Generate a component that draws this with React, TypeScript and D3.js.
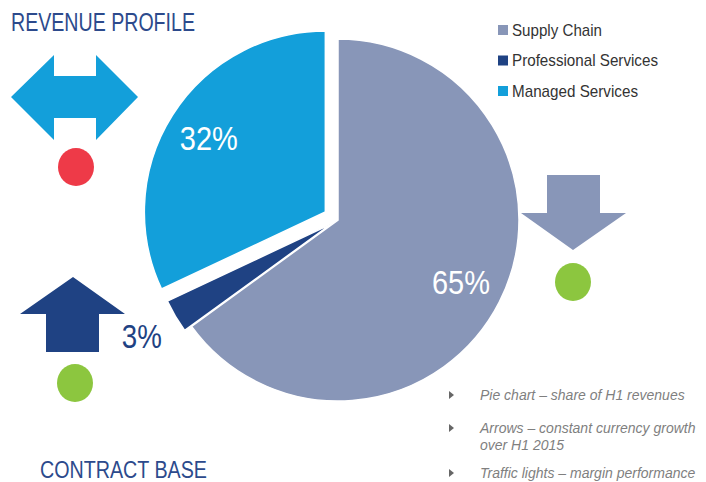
import { useEffect, useRef } from 'react';
import * as d3 from 'd3';

// revenue share by segment, H1
const segments = ['Supply Chain', 'Professional Services', 'Managed Services'];
const shares = [65, 3, 32];
const segmentColors = ['#8896b8', '#1f4283', '#139fda'];
const explode = [0, 8, 15];
const legendWidths = [90, 146, 126];

const notes = [
  ['Pie chart – share of H1 revenues'],
  ['Arrows – constant currency growth', 'over H1 2015'],
  ['Traffic lights – margin performance'],
];

const NARROW = '"Liberation Sans Narrow", "Arial Narrow", "Liberation Sans", sans-serif';

function App() {
  const ref = useRef<SVGSVGElement>(null);

  useEffect(() => {
    const svg = d3.select(ref.current);
    svg.selectAll('*').remove();

    const cx = 338, cy = 220, radius = 181;

    const pie = d3.pie<number>().sort(null).value((d) => d);
    const arcs = pie(shares);
    const arc = d3.arc<d3.PieArcDatum<number>>().innerRadius(0).outerRadius(radius);

    const dir = (d: d3.PieArcDatum<number>) => {
      const a = (d.startAngle + d.endAngle) / 2;
      return [Math.sin(a), -Math.cos(a)];
    };

    const chart = svg.append('g').attr('transform', `translate(${cx},${cy})`);

    const slice = chart.selectAll('g.slice').data(arcs).join('g')
      .attr('class', 'slice')
      .attr('transform', (d, i) => {
        const [dx, dy] = dir(d);
        return `translate(${dx * explode[i]},${dy * explode[i]})`;
      });

    slice.append('path')
      .attr('d', arc)
      .attr('fill', (d, i) => segmentColors[i])
      .attr('stroke', 'white')
      .attr('stroke-width', 1.5);

    // labels: inside for big slices, outside for the small one
    const labelR = [138, 220, 138];
    slice.append('text')
      .attr('x', (d, i) => dir(d)[0] * labelR[i])
      .attr('y', (d, i) => dir(d)[1] * labelR[i])
      .attr('text-anchor', 'middle')
      .attr('dominant-baseline', 'central')
      .attr('fill', (d, i) => (i === 1 ? '#1f4283' : 'white'))
      .style('font-family', NARROW)
      .style('font-size', '33px')
      .attr('textLength', (d) => (String(d.data).length === 1 ? 40 : 58))
      .attr('lengthAdjust', 'spacingAndGlyphs')
      .text((d) => d.data + '%');

    // legend
    const legend = svg.append('g').attr('transform', 'translate(498,30)');
    const row = legend.selectAll('g').data(segments).join('g')
      .attr('transform', (d, i) => `translate(0,${i * 30.5})`);
    row.append('rect')
      .attr('x', 0).attr('y', -5).attr('width', 10).attr('height', 10)
      .attr('fill', (d, i) => segmentColors[i]);
    row.append('text')
      .attr('x', 14).attr('dy', '0.35em')
      .attr('fill', '#333')
      .style('font-family', NARROW)
      .style('font-size', '17px')
      .attr('textLength', (d, i) => legendWidths[i])
      .attr('lengthAdjust', 'spacingAndGlyphs')
      .text((d) => d);

    // titles
    svg.append('text').attr('x', 11).attr('y', 31)
      .attr('fill', '#2c4a8c')
      .style('font-family', NARROW).style('font-size', '25px')
      .attr('textLength', 184).attr('lengthAdjust', 'spacingAndGlyphs')
      .text('REVENUE PROFILE');
    svg.append('text').attr('x', 40).attr('y', 478)
      .attr('fill', '#2c4a8c')
      .style('font-family', NARROW).style('font-size', '24px')
      .attr('textLength', 167).attr('lengthAdjust', 'spacingAndGlyphs')
      .text('CONTRACT BASE');

    // arrows + traffic lights
    const line = d3.line();
    // double arrow (managed services)
    svg.append('path')
      .attr('d', line([[11, 97], [54, 55], [54, 76], [96, 76], [96, 55], [138, 97],
        [96, 140], [96, 118], [54, 118], [54, 140]]) + 'Z')
      .attr('fill', '#139fda');
    // up arrow (professional services)
    svg.append('path')
      .attr('d', line([[73, 277], [125, 314], [99, 314], [99, 352], [46, 352], [46, 314], [20, 314]]) + 'Z')
      .attr('fill', '#1f4283');
    // down arrow (supply chain)
    svg.append('path')
      .attr('d', line([[547, 175], [600, 175], [600, 213], [626, 213], [573, 250], [521, 213], [547, 213]]) + 'Z')
      .attr('fill', '#8896b8');

    const lights = [
      { x: 76, y: 167, c: '#ee3a48' },
      { x: 75, y: 383, c: '#8cc63f' },
      { x: 573, y: 282, c: '#8cc63f' },
    ];
    svg.selectAll('ellipse.light').data(lights).join('ellipse')
      .attr('class', 'light')
      .attr('cx', (d) => d.x).attr('cy', (d) => d.y)
      .attr('rx', 18).attr('ry', 19)
      .attr('fill', (d) => d.c);

    // notes
    const noteG = svg.append('g');
    const noteY = [395, 428, 473];
    notes.forEach((lines, i) => {
      noteG.append('path')
        .attr('d', line([[449, noteY[i] - 4], [454, noteY[i]], [449, noteY[i] + 4]]) + 'Z')
        .attr('fill', '#666');
      lines.forEach((t, j) => {
        noteG.append('text')
          .attr('x', 480).attr('y', noteY[i] + j * 17).attr('dy', '0.35em')
          .attr('fill', '#7f7f7f')
          .style('font-family', '"Liberation Sans", Arial, sans-serif')
          .style('font-style', 'italic')
          .style('font-size', '14px')
          .text(t);
      });
    });
  }, []);

  return (
    <svg ref={ref} width={706} height={482}
      style={{ position: 'absolute', left: 0, top: 0, background: 'white' }} />
  );
}

export default App;
